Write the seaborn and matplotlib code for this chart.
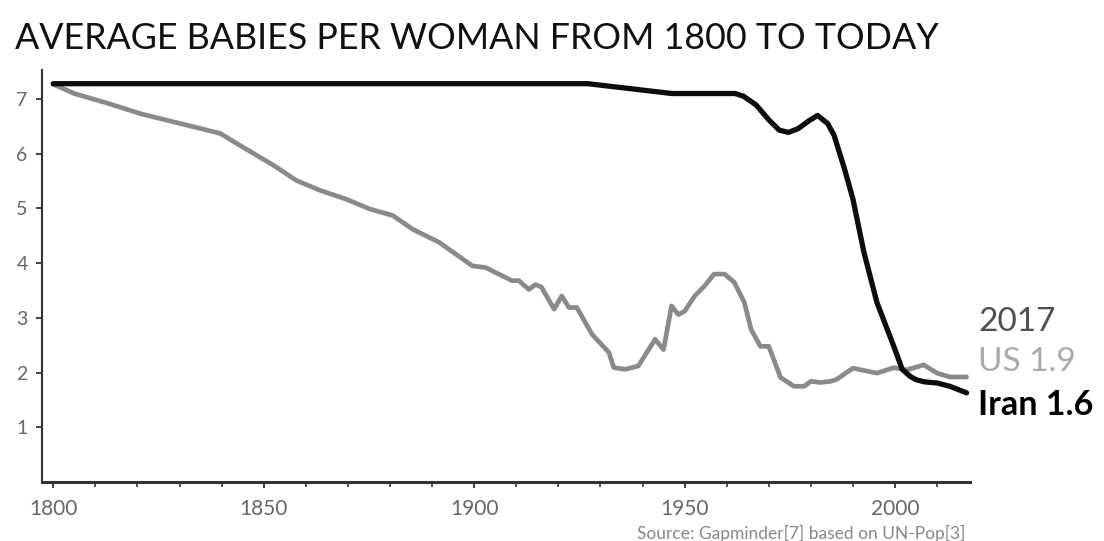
import numpy as np
import pandas as pd
import matplotlib
matplotlib.use("Agg")
import matplotlib.pyplot as plt
import seaborn as sns
from matplotlib.ticker import MultipleLocator

# Babies per woman
iran_years = [1800, 1850, 1900, 1927, 1937, 1947, 1955, 1962, 1964, 1967, 1970, 1972.5,
              1974.7, 1977, 1979.5, 1981.6, 1984, 1985.5, 1988, 1990, 1992.6, 1995.7,
              1999.7, 2001.7, 2003.6, 2005, 2007, 2010, 2013, 2017]
iran_tfr = [7.28, 7.28, 7.28, 7.28, 7.19, 7.10, 7.10, 7.10, 7.05, 6.89, 6.62, 6.43,
            6.39, 6.46, 6.60, 6.70, 6.55, 6.34, 5.72, 5.17, 4.20, 3.28,
            2.48, 2.06, 1.93, 1.87, 1.83, 1.81, 1.75, 1.63]

us_years = [1800, 1805, 1813, 1820.8, 1828.7, 1836.6, 1839.7, 1844.4, 1852.3, 1857.8,
            1863.4, 1869.6, 1875.2, 1880.7, 1885.4, 1891.7, 1899.6, 1902.7, 1909,
            1910.6, 1913, 1914.6, 1916, 1919, 1920.8, 1922.5, 1924.4, 1928, 1932,
            1933.2, 1935.9, 1939, 1943, 1945, 1946.9, 1948.5, 1950, 1952.4, 1954.7,
            1957, 1959.5, 1961.8, 1964.2, 1965.8, 1968, 1970, 1972.8, 1976, 1978.4,
            1980, 1982.3, 1984.7, 1986, 1990, 1995.7, 1999.7, 2002.8, 2006.8, 2010,
            2013, 2017]
us_tfr = [7.27, 7.10, 6.92, 6.73, 6.58, 6.43, 6.37, 6.15, 5.79, 5.51,
          5.33, 5.17, 4.99, 4.87, 4.62, 4.38, 3.95, 3.92, 3.68,
          3.68, 3.52, 3.61, 3.56, 3.16, 3.40, 3.19, 3.19, 2.70, 2.37,
          2.09, 2.06, 2.12, 2.61, 2.42, 3.22, 3.06, 3.12, 3.40, 3.58,
          3.80, 3.80, 3.65, 3.28, 2.79, 2.48, 2.48, 1.91, 1.75, 1.75,
          1.84, 1.82, 1.84, 1.87, 2.08, 1.99, 2.09, 2.05, 2.14, 1.99,
          1.92, 1.92]

title = "AVERAGE BABIES PER WOMAN FROM 1800 TO TODAY"
source = "Source: Gapminder[7] based on UN-Pop[3]"

sns.set_style("ticks")
plt.rcParams['font.family'] = ['Lato', 'DejaVu Sans']

us_df = pd.DataFrame({"year": us_years, "tfr": us_tfr})
iran_df = pd.DataFrame({"year": iran_years, "tfr": iran_tfr})

fig = plt.figure(figsize=(11.04, 5.41), dpi=100)
ax = fig.add_axes([0.0383, 0.109, 0.8403, 0.7616])

sns.lineplot(data=us_df, x="year", y="tfr", sort=False, color="#8a8a8a",
             linewidth=3.4, ax=ax)
sns.lineplot(data=iran_df, x="year", y="tfr", sort=False, color="#0d0d0d",
             linewidth=3.8, ax=ax)

ax.set_xlim(1797.4, 2017.8)
ax.set_ylim(0, 7.53)
ax.set_xticks([1800, 1850, 1900, 1950, 2000])
ax.xaxis.set_minor_locator(MultipleLocator(10))
ax.set_yticks([1, 2, 3, 4, 5, 6, 7])
ax.set_xlabel("")
ax.set_ylabel("")

for s in ["top", "right"]:
    ax.spines[s].set_visible(False)
ax.spines["left"].set_linewidth(1.5)
ax.spines["left"].set_color("#333333")
ax.spines["bottom"].set_linewidth(2.2)
ax.spines["bottom"].set_color("#333333")

ax.tick_params(axis="y", length=4.5, width=1.3, color="#333333", labelcolor="#666666",
               labelsize=14, pad=6)
ax.tick_params(axis="x", which="major", length=4.5, width=1.3, color="#333333",
               labelcolor="#666666", labelsize=15, pad=8)
ax.tick_params(axis="x", which="minor", length=3.5, width=1.2, color="#333333")

fig.text(0.0136, 0.928, title, fontsize=25.8, color="#111111", va="center", ha="left")
fig.text(0.886, 0.405, "2017", fontsize=24, color="#505050", va="center")
fig.text(0.886, 0.331, "US 1.9", fontsize=24, color="#aaaaaa", va="center")
fig.text(0.886, 0.251, "Iran 1.6", fontsize=24.5, color="#000000", fontweight="bold",
         va="center")
fig.text(0.874, 0.014, source, fontsize=12.5, color="#888888",
         ha="right", va="center")

fig.savefig("out.png", dpi=100)
